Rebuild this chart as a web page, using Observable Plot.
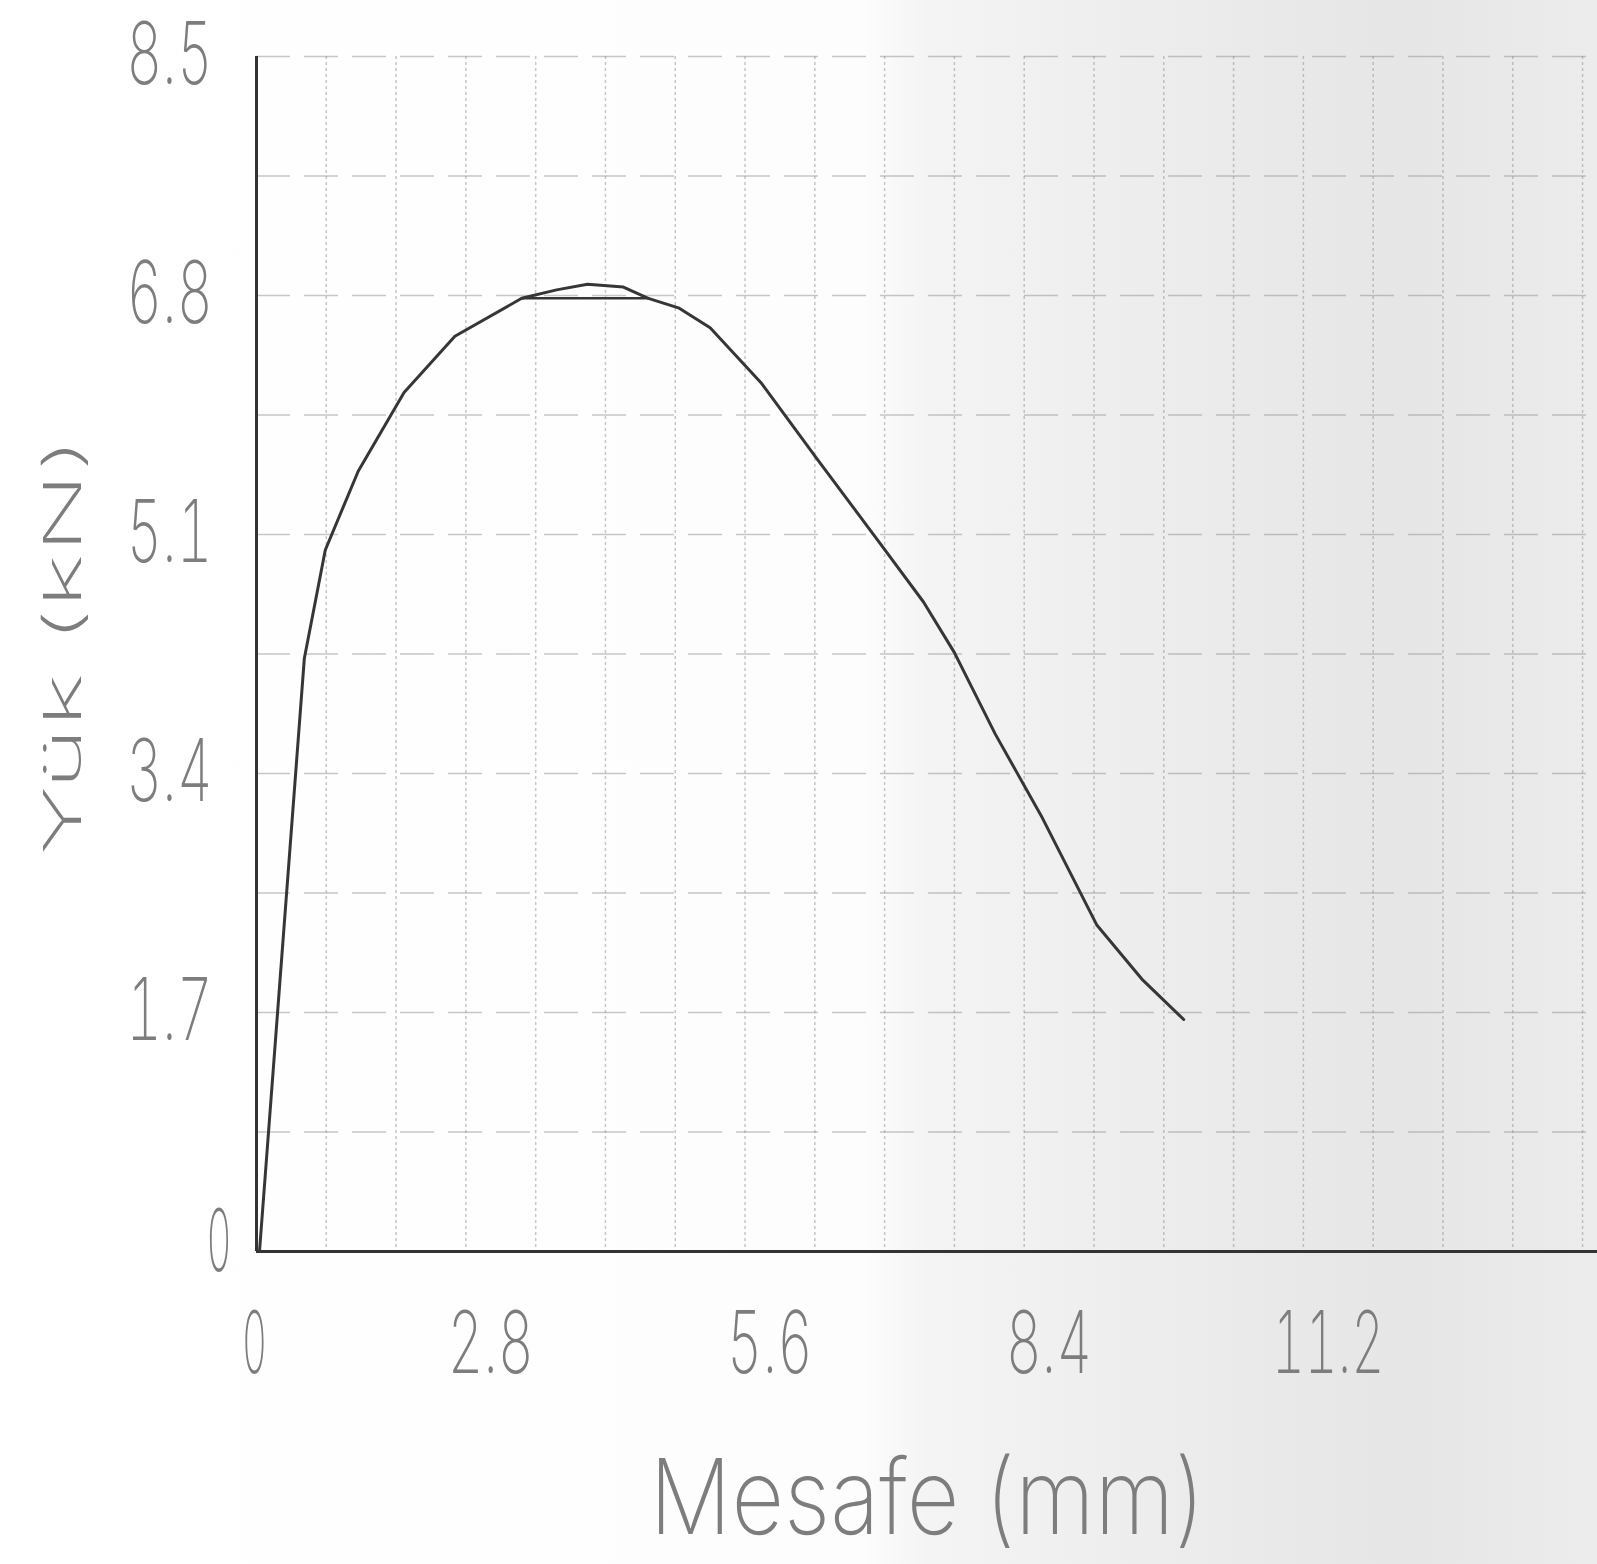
<!DOCTYPE html>
<html><head><meta charset="utf-8">
<script src="https://cdn.jsdelivr.net/npm/d3@7"></script>
<script src="https://cdn.jsdelivr.net/npm/@observablehq/plot@0.6"></script>
<style>
html,body{margin:0;padding:0;}
body{width:1597px;height:1564px;overflow:hidden;background:linear-gradient(to right,#ffffff 0%,#fdfdfd 54%,#f4f4f4 58%,#eeeeee 70%,#e9e9e9 80%,#e6e6e6 88%,#ececec 100%);}
</style></head><body><div id="chart"></div>
<script>
// Tick values
const xTicks = [0, 2.8, 5.6, 8.4, 11.2];
const yTicks = [0, 1.7, 3.4, 5.1, 6.8, 8.5];
// Grid values
const gridX = [0.7, 1.4, 2.1, 2.8, 3.5, 4.2, 4.9, 5.6, 6.3, 7.0, 7.7, 8.4, 9.1, 9.8, 10.5, 11.2, 11.9, 12.6, 13.3];
const gridY = [0.85, 1.7, 2.55, 3.4, 4.25, 5.1, 5.95, 6.8, 7.65, 8.5];
// Load–displacement curve
const mesafe = [0.03, 0.48, 0.69, 1.02, 1.48, 1.99, 2.66, 3.01, 3.32, 3.68, 3.93, 4.24, 4.55, 5.06, 5.62, 6.23, 6.69, 7.00, 7.41, 7.87, 8.43, 8.89, 9.30];
const yuk    = [0.00, 4.22, 4.99, 5.55, 6.11, 6.51, 6.78, 6.84, 6.88, 6.86, 6.78, 6.71, 6.57, 6.18, 5.64, 5.06, 4.62, 4.26, 3.68, 3.10, 2.32, 1.93, 1.65];
// Chord under the peak
const chordX = [2.66, 3.93];
const chordY = [6.78, 6.78];
const xTitle = "Mesafe (mm)";
const yTitle = "Yük (kN)";

const curve = mesafe.map((x, i) => ({x, y: yuk[i]}));
const chord = chordX.map((x, i) => ({x, y: chordY[i]}));

const txt = "#7d7d7d";
const font = {fontWeight: 250, fill: txt};
const fmt = d => `${d}`;

const chart = Plot.plot({
  width: 1597, height: 1564,
  marginLeft: 256, marginRight: 0, marginTop: 56, marginBottom: 313,
  x: {domain: [0, 13.45], axis: null},
  y: {domain: [0, 8.5], axis: null},
  style: {background: "transparent", fontFamily: "Inter, 'DejaVu Sans', sans-serif", overflow: "visible"},
  marks: [
    Plot.ruleY(gridY, {stroke: "#8f8f8f", strokeWidth: 1.5, strokeDasharray: "34,14", strokeOpacity: 0.5}),
    Plot.ruleX(gridX, {stroke: "#8f8f8f", strokeWidth: 1.5, strokeDasharray: "3,3", strokeOpacity: 0.5}),
    Plot.ruleX([0], {stroke: "#333", strokeWidth: 3}),
    Plot.ruleY([0], {stroke: "#333", strokeWidth: 3}),
    Plot.line(curve, {x: "x", y: "y", stroke: "#363636", strokeWidth: 3}),
    Plot.line(chord, {x: "x", y: "y", stroke: "#363636", strokeWidth: 2.5}),
    Plot.axisX(xTicks.slice(0, 1), {tickSize: 0, tickPadding: 60, dx: -2, fontSize: 86, label: null, tickFormat: fmt, ...font}),
    Plot.axisX(xTicks.slice(1), {tickSize: 0, tickPadding: 60, dx: -45, fontSize: 86, label: null, tickFormat: fmt, ...font}),
    Plot.axisY(yTicks.slice(0, 1), {tickSize: 0, tickPadding: 25, dy: -8, fontSize: 86, label: null, tickFormat: fmt, ...font}),
    Plot.axisY(yTicks.slice(1), {tickSize: 0, tickPadding: 44, fontSize: 86, label: null, tickFormat: fmt, ...font}),
    Plot.text([xTitle], {frameAnchor: "bottom", dy: 282, fontSize: 104, ...font}),
    Plot.text([yTitle], {frameAnchor: "left", textAnchor: "middle", dx: -192, dy: -8, rotate: -90, fontSize: 52, ...font})
  ]
});

d3.select(chart).selectAll('g[aria-label$="tick label"] text').each(function() {
  const t = this.textContent.trim();
  const L = t.length === 1 ? 25 : t.length === 3 ? 86 : 112;
  d3.select(this).attr("textLength", L).attr("lengthAdjust", "spacingAndGlyphs");
});
d3.select(chart).selectAll('g[aria-label="text"] text').each(function() {
  const t = this.textContent.trim();
  const L = t === xTitle ? 555 : 418;
  d3.select(this).attr("textLength", L).attr("lengthAdjust", "spacingAndGlyphs");
});

document.getElementById("chart").appendChild(chart);
</script>
</body></html>
